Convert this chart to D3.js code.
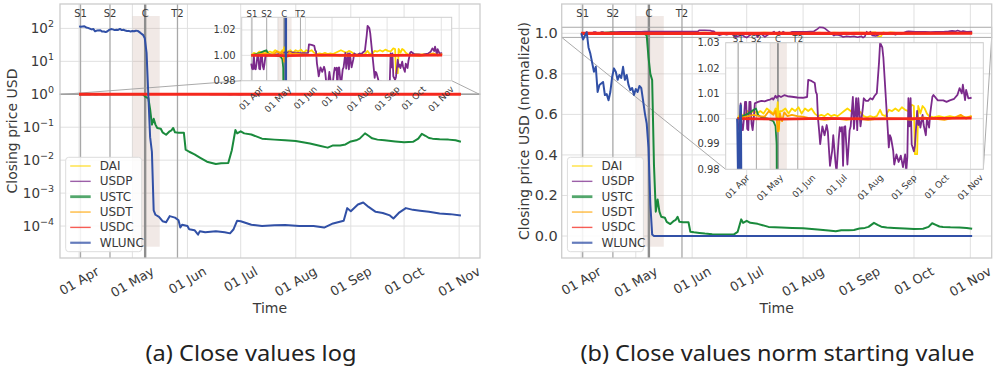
<!DOCTYPE html>
<html>
<head>
<meta charset="utf-8">
<script src="https://cdn.jsdelivr.net/npm/d3@7"></script>
<style>
body { margin: 0; background: #fff; }
text { font-family: "DejaVu Sans", sans-serif; fill: #3a3a3a; }
.caption { font-family: "Noto Sans", sans-serif; fill: #222; }
</style>
</head>
<body>
<svg id="chart" width="999" height="376"></svg>
<script>
// coins, in plotting / legend order
const coins = ['DAI', 'USDP', 'USTC', 'USDT', 'USDC', 'WLUNC'];
const colors = ['#ffd700', '#7b2a8b', '#1a8a3c', '#ffa500', '#f5281e', '#3150a6'];

// days counted from 2022-04-01, closing prices in USD
const daiDays = [0,3,6,9,12,15,18,21,24,27,30,33,35,36,37,38,39,41,44,47,50,53,56,59,62,65,68,71,74,77,80,83,86,89,92,95,98,101,104,107,110,113,116,119,122,125,128,131,133,136,139,142,145,148,151,154,157,160,162,163,165,166,168,170,172,174,176,180,185,190,195,200,205,210,215];
const daiClose = [1.000,1.002,1.001,1.003,1.002,1.003,1.002,1.003,1.002,1.004,1.003,1.002,1.004,1.001,1.0065,0.995,1.003,1.003,1.004,1.002,1.004,1.003,1.0045,1.002,1.004,1.003,1.004,1.002,1.001,1.0015,1.001,1.002,1.001,1.0015,1.001,1.002,1.003,1.004,1.003,1.002,1.0035,1.0025,1.001,1.0005,1.001,1.0005,1.001,1.0035,1.0015,1.001,1.0035,1.003,1.004,1.003,1.0045,1.0035,1.003,1.0055,1.005,0.986,0.986,1.005,1.002,1.005,1.004,1.002,1.001,1.0005,1.001,1.0005,1.001,1.0005,1.001,1.0005,1.001];

const usdpDays = [0,1,2,3,4,5,6,7,8,9,10,11,12,13,14,15,16,17,19,22,25,28,30,32,33,35,36,38,40,43,46,50,55,60,64,65,68,71,72,73,74,75,76,78,80,82,83,85,87,88,90,91,93,94,95,96,97,98,99,101,103,104,106,107,109,110,111,113,115,116,118,120,122,124,126,128,130,131,133,134,136,137,138,139,140,141,143,144,146,148,150,152,154,155,156,157,158,159,160,162,163,165,166,167,168,170,171,173,174,176,177,179,180,184,189,192,195,199,202,204,206,207,209,210,212,215];
const usdpClose = [0.9935,0.9895,0.989,0.9995,0.9895,0.989,0.9935,1.0001,1.0001,0.9895,0.989,1.0001,1.0001,0.9915,0.989,0.9935,0.9995,0.9997,1.0001,1.0005,1.0003,1.0008,1.001,1.0015,1.001,1.0025,1.0017,1.0025,1.002,1.0027,1.0023,1.0021,1.0018,1.0017,1.002,1.0087,1.0083,1.0075,1.004,1.003,0.9935,0.9889,0.9835,0.9905,0.987,0.991,0.9885,0.975,0.981,0.987,0.9765,0.9725,0.9855,0.9902,0.9885,0.9902,0.975,0.9902,0.9905,0.9755,0.9889,0.9905,1.002,0.9895,1.0015,0.989,1.0015,0.9905,0.997,1.0015,1.0005,1.0005,1.0015,1.001,1.0025,1.0035,1.0155,1.0233,1.0215,1.0175,1.0035,0.9965,0.9895,0.9822,0.987,0.986,0.981,0.9755,0.9795,0.9765,0.979,0.9745,0.9795,0.9725,0.9785,1.0015,0.9905,1.0015,0.9835,0.9807,0.983,0.9965,0.991,0.9927,0.99,0.995,0.991,0.987,0.9935,0.99,0.9955,1.0021,1.0028,1.0007,1.0007,1.0001,1.0007,1.0013,1.0028,1.0055,1.0034,1.0068,1.0008,1.0048,1.0015,1.0017];

const ustcDays = [0,5,10,15,17,19,22,28,33,35,36,37,38,39,40,41,42,43,44,46,47,49,51,52,53,54,56,59,60,62,65,68,72,77,80,84,86,88,89,90,91,93,97,103,110,116,122,130,136,140,143,147,150,153,156,158,161,163,165,168,172,178,183,188,191,193,195,197,199,203,208,212,215];
const ustcClose = [1.000,1.001,1.002,1.0035,1.004,1.0015,1.0005,1.000,0.999,0.997,0.99,0.88,0.80,0.77,0.35,0.12,0.18,0.12,0.095,0.09,0.07,0.059,0.075,0.08,0.095,0.07,0.068,0.068,0.021,0.018,0.015,0.012,0.009,0.0076,0.008,0.0082,0.02,0.082,0.065,0.07,0.075,0.065,0.06,0.045,0.042,0.04,0.038,0.032,0.027,0.024,0.028,0.028,0.03,0.037,0.04,0.045,0.065,0.055,0.046,0.042,0.04,0.037,0.035,0.036,0.045,0.063,0.055,0.047,0.045,0.043,0.042,0.04,0.036];

const usdtDays = [0,5,10,15,20,25,29,30,33,35,36,37,38,39,41,43,46,50,55,60,65,70,80,90,100,110,120,130,140,150,160,170,180,190,200,205,210,215];
const usdtClose = [1.000,1.0005,1.001,1.0015,1.001,1.0008,1.003,1.0025,1.0015,1.003,1.000,0.995,0.996,1.002,0.999,1.0025,1.001,1.0015,1.001,1.0008,1.0003,1.000,0.9995,1.000,0.9995,1.000,0.9995,1.000,1.0002,1.000,0.9995,1.0005,1.000,0.9995,1.0005,1.0015,1.000,1.001];

const usdcDays = [0,40,80,120,160,215];
const usdcClose = [1.000,0.9998,1.0001,0.9999,1.000,1.0002];

const wluncDays = [0,1,3,4,5,7,8,9,10,12,13,14,15,16,17,18,19,20,21,22,23,24,25,26,27,28,29,30,31,32,33,34,35,36,37,38,39,40,41,42,43,45,47,49,51,54,56,57,58,61,62,65,67,68,71,77,82,85,87,89,91,97,103,110,116,124,132,138,143,149,151,153,157,160,163,167,171,175,177,180,184,188,192,197,203,209,215];
const wluncClose = [115,111.5,115.6,107,103.5,93.2,96,81.7,85.7,87.4,80,80.5,77,81.7,90.3,95.1,93.2,88.6,91.4,89.7,96,88.6,91.4,85.7,82.8,84,80,83.4,81.7,85.1,84,77,69.6,63.8,50,18,0.9,0.05,0.018,0.0003,0.00022,0.00019,0.00014,0.00013,0.0002,0.00018,0.00015,0.00009,0.00011,0.0001,0.00008,0.000075,0.000055,0.00007,0.000065,0.00007,0.000065,0.00006,0.00008,0.000145,0.00014,0.00011,0.0001,0.000105,0.000107,0.0001,0.0001,0.00009,0.00012,0.000145,0.00035,0.00028,0.00045,0.00052,0.00038,0.00027,0.00025,0.00021,0.00017,0.00025,0.00035,0.00031,0.00029,0.00027,0.00024,0.00023,0.00021];

// events marked on the timeline
const eventLabels = ['S1', 'S2', 'C', 'T2'];
const eventDays = [0.8, 17.4, 37.2, 55.4];
const crashSpan = [30.1, 45.4];

// ticks
const monthTicks = ['2022-04-01','2022-05-01','2022-06-01','2022-07-01','2022-08-01','2022-09-01','2022-10-01','2022-11-01'];
const logTicks = [1e-4, 1e-3, 1e-2, 1e-1, 1e0, 1e1, 1e2];
const normTicks = [0, 0.2, 0.4, 0.6, 0.8, 1.0];
const insetTicksA = [0.98, 1.00, 1.02];
const insetTicksB = [0.98, 0.99, 1.00, 1.01, 1.02, 1.03];

const start = new Date(2022, 3, 1);
const toDate = d => new Date(start.getTime() + d * 864e5);
const months = monthTicks.map(s => d3.timeParse('%Y-%m-%d')(s));
const fmtMonth = d3.timeFormat('%d %b');

const dayArrays = [daiDays, usdpDays, ustcDays, usdtDays, usdcDays, wluncDays];
const closeArrays = [daiClose, usdpClose, ustcClose, usdtClose, usdcClose, wluncClose];
const series = coins.map((name, i) => ({
  name, color: colors[i],
  raw: dayArrays[i].map((d, j) => ({date: toDate(d), v: closeArrays[i][j]})),
  norm: dayArrays[i].map((d, j) => ({date: toDate(d), v: closeArrays[i][j] / closeArrays[i][0]}))
}));

const [dMin, dMax] = d3.extent(d3.merge(dayArrays));
const pad = 0.05 * (dMax - dMin);
const xDomain = [toDate(dMin - pad), toDate(dMax + pad)];

const svg = d3.select('#chart');
let clipId = 0;

const mainWidths = [1.5, 1.6, 2, 1.5, 3.2, 2];
const insetWidths = [1.8, 1.8, 1.8, 1.8, 2.8, 2.4];

function rotatedLabel(g, label, cx, top, angle, size) {
  const t = g.append('text').attr('font-size', size)
    .attr('text-anchor', 'middle').attr('dominant-baseline', 'central').text(label);
  const L = t.node().getComputedTextLength();
  const a = angle * Math.PI / 180;
  const H = L * Math.sin(a) + size * 0.9 * Math.cos(a);
  const cy = top + H / 2;
  t.attr('x', cx).attr('y', cy).attr('transform', `rotate(${-angle},${cx},${cy})`);
}

function addClip(x, y, w, h) {
  const id = 'clip' + (clipId++);
  svg.append('clipPath').attr('id', id).append('rect')
    .attr('x', x).attr('y', y).attr('width', w).attr('height', h);
  return `url(#${id})`;
}

function drawEvents(g, x, top, bottom, shadeTop, shadeBottom, thin) {
  g.append('rect')
    .attr('x', x(toDate(crashSpan[0]))).attr('width', x(toDate(crashSpan[1])) - x(toDate(crashSpan[0])))
    .attr('y', shadeTop).attr('height', shadeBottom - shadeTop)
    .attr('fill', '#c8a89a').attr('opacity', 0.25);
  eventDays.forEach((d, i) => {
    const isC = eventLabels[i] === 'C';
    g.append('line')
      .attr('x1', x(toDate(d))).attr('x2', x(toDate(d)))
      .attr('y1', top).attr('y2', bottom)
      .attr('stroke', isC ? '#8e8e8e' : '#a8a8a8')
      .attr('stroke-width', isC ? (thin ? 1.8 : 2.4) : (thin ? 1 : 1.3));
  });
}

function drawInset(box, yTicks, vals) {
  const g = svg.append('g');
  const x = d3.scaleTime().domain(xDomain).range([box.x, box.x + box.w]);
  const y = d3.scaleLinear().domain([0.98, 1.03]).range([box.y + box.h, box.y]);
  g.append('rect').attr('x', box.x).attr('y', box.y).attr('width', box.w).attr('height', box.h).attr('fill', '#fff');
  const grid = g.append('g').attr('stroke', '#e3e3e3').attr('stroke-width', 1);
  months.forEach(m => grid.append('line').attr('x1', x(m)).attr('x2', x(m)).attr('y1', box.y).attr('y2', box.y + box.h));
  yTicks.forEach(t => grid.append('line').attr('x1', box.x).attr('x2', box.x + box.w).attr('y1', y(t)).attr('y2', y(t)));
  drawEvents(g, x, box.y, box.y + box.h, box.y, box.y + box.h, true);
  const clip = addClip(box.x, box.y, box.w, box.h);
  const line = d3.line().x(d => x(d.date)).y(d => y(d.v));
  const lg = g.append('g').attr('clip-path', clip);
  series.forEach((s, i) => {
    lg.append('path').datum(vals(s)).attr('d', line).attr('fill', 'none')
      .attr('stroke', s.color).attr('stroke-width', insetWidths[i]).attr('stroke-linejoin', 'round');
  });
  g.append('rect').attr('x', box.x).attr('y', box.y).attr('width', box.w).attr('height', box.h)
    .attr('fill', 'none').attr('stroke', '#cfcfcf').attr('stroke-width', 1);
  eventDays.forEach((d, i) => {
    g.append('text').attr('x', x(toDate(d))).attr('y', box.y - 3.4).attr('dominant-baseline', 'central')
      .attr('text-anchor', 'middle').attr('font-size', 8.5).text(eventLabels[i]);
  });
  yTicks.forEach(t => {
    g.append('text').attr('x', box.x - 6).attr('y', y(t)).attr('dominant-baseline', 'central')
      .attr('text-anchor', 'end').attr('font-size', 10).text(d3.format('.2f')(t));
  });
  months.forEach(m => rotatedLabel(g, fmtMonth(m), x(m), box.y + box.h + 4, 45, 9));
}

function drawPanel(p) {
  const g = svg.append('g');
  const bottom = p.top + p.height, right = p.left + p.width;
  const x = d3.scaleTime().domain(xDomain).range([p.left, right]);
  const y = p.y;
  const grid = g.append('g').attr('stroke', '#e0e0e0').attr('stroke-width', 1);
  months.forEach(m => grid.append('line').attr('x1', x(m)).attr('x2', x(m)).attr('y1', p.top).attr('y2', bottom));
  p.ticks.forEach(t => grid.append('line').attr('x1', p.left).attr('x2', right).attr('y1', y(t)).attr('y2', y(t)));
  drawEvents(g, x, p.top, bottom, p.top + 12, bottom - 11.3, false);

  // zoom region marker and connectors to the inset
  const zr = g.append('g').attr('stroke', '#a0a0a0').attr('stroke-width', 0.9).attr('fill', 'none');
  zr.append('rect').attr('x', p.left).attr('y', y(1.03)).attr('width', p.width).attr('height', y(0.98) - y(1.03));
  zr.append('line').attr('x1', p.left).attr('y1', y(0.98)).attr('x2', p.inset.x).attr('y2', p.inset.y + p.inset.h);
  zr.append('line').attr('x1', right).attr('y1', y(0.98)).attr('x2', p.inset.x + p.inset.w).attr('y2', p.inset.y + p.inset.h);

  const clip = addClip(p.left, p.top, p.width, p.height);
  const line = d3.line().x(d => x(d.date)).y(d => y(d.v));
  const lg = g.append('g').attr('clip-path', clip);
  series.forEach((s, i) => {
    lg.append('path').datum(p.vals(s)).attr('d', line).attr('fill', 'none')
      .attr('stroke', s.color).attr('stroke-width', mainWidths[i]).attr('stroke-linejoin', 'round');
  });

  g.append('rect').attr('x', p.left).attr('y', p.top).attr('width', p.width).attr('height', p.height)
    .attr('fill', 'none').attr('stroke', '#cccccc').attr('stroke-width', 1.3);

  eventDays.forEach((d, i) => {
    g.append('text').attr('x', x(toDate(d))).attr('y', p.top + 9.3).attr('dominant-baseline', 'central')
      .attr('text-anchor', 'middle').attr('font-size', 10).text(eventLabels[i]);
  });

  // legend
  const lgX = p.left + 5.7, lgY = p.top + 153.3;
  const leg = g.append('g');
  leg.append('rect').attr('x', lgX).attr('y', lgY).attr('width', 76).attr('height', 94.4).attr('rx', 3)
    .attr('fill', '#fff').attr('fill-opacity', 0.85).attr('stroke', '#dddddd');
  const handleW = [1.4, 1.4, 2.8, 1.4, 1.4, 2.2];
  coins.forEach((c, i) => {
    const cy = lgY + 8.7 + i * 15.35;
    leg.append('line').attr('x1', lgX + 4.5).attr('x2', lgX + 25).attr('y1', cy).attr('y2', cy)
      .attr('stroke', colors[i]).attr('stroke-width', handleW[i]).attr('opacity', 0.75);
    leg.append('text').attr('x', lgX + 34).attr('y', cy).attr('dominant-baseline', 'central')
      .attr('font-size', 12).text(c);
  });

  drawInset(p.inset, p.insetTicks, p.vals);

  // axes text
  p.ticks.forEach(t => p.tickLabel(g, p.left - 6, y(t), t));
  months.forEach(m => rotatedLabel(g, fmtMonth(m), x(m), bottom + 7, 30, 13));
  g.append('text').attr('x', (p.left + right) / 2).attr('y', 308).attr('dominant-baseline', 'central')
    .attr('text-anchor', 'middle').attr('font-size', 14).text('Time');
  g.append('text').attr('transform', `translate(${p.yLabelX},${(p.top + bottom) / 2}) rotate(-90)`)
    .attr('dominant-baseline', 'central').attr('text-anchor', 'middle').attr('font-size', 14).text(p.yLabel);
  g.append('text').attr('class', 'caption').attr('x', p.captionX).attr('y', 353)
    .attr('dominant-baseline', 'central').attr('text-anchor', 'middle').attr('font-size', 21)
    .attr('textLength', p.captionW).attr('lengthAdjust', 'spacingAndGlyphs').text(p.caption);
}

function logTickLabel(g, x, y, t) {
  const e = Math.round(Math.log10(t));
  const txt = g.append('text').attr('x', x).attr('y', y + 5).attr('text-anchor', 'end').attr('font-size', 13.5);
  txt.append('tspan').text('10');
  txt.append('tspan').attr('dy', -6).attr('font-size', 9.5).text((e < 0 ? '\u2212' : '') + Math.abs(e));
}

function normTickLabel(g, x, y, t) {
  g.append('text').attr('x', x + 2).attr('y', y).attr('dominant-baseline', 'central')
    .attr('text-anchor', 'end').attr('font-size', 14.5).text(d3.format('.1f')(t));
}

drawPanel({
  left: 60, top: 4, width: 420, height: 254,
  y: d3.scaleLog().domain([10 ** -4.97, 10 ** 2.74]).range([258, 4]),
  ticks: logTicks, tickLabel: logTickLabel,
  vals: s => s.raw,
  yLabel: 'Closing price USD', yLabelX: 12,
  inset: {x: 241.7, y: 17.3, w: 210, h: 63.4}, insetTicks: insetTicksA,
  caption: '(a) Close values log', captionX: 251, captionW: 211
});

drawPanel({
  left: 561.7, top: 4, width: 430, height: 254,
  y: d3.scaleLinear().domain([-0.1085, 1.1446]).range([258, 4]),
  ticks: normTicks, tickLabel: normTickLabel,
  vals: s => s.norm,
  yLabel: 'Closing price USD (normalized)', yLabelX: 524,
  inset: {x: 725.7, y: 42.7, w: 257.6, h: 126.6}, insetTicks: insetTicksB,
  caption: '(b) Close values norm starting value', captionX: 777.5, captionW: 394
});
</script>
</body>
</html>
